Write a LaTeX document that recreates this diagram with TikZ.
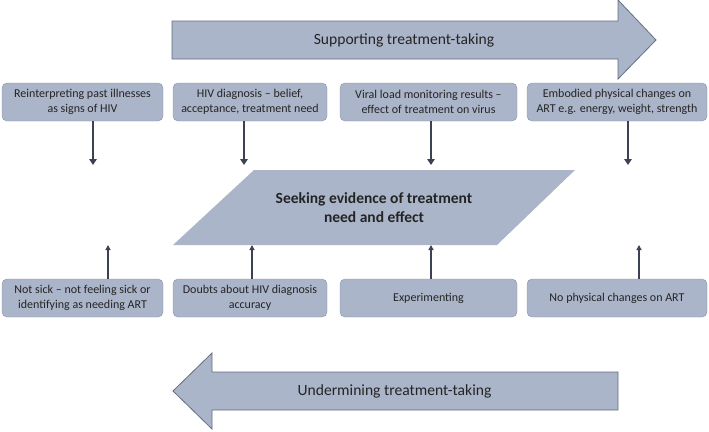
\documentclass[tikz,border=0pt]{standalone}
\usepackage{fontspec}
\setmainfont{Carlito}
\usetikzlibrary{positioning, arrows.meta}
\definecolor{boxfill}{RGB}{171,181,201}
\definecolor{boxline}{RGB}{138,148,166}
\definecolor{arrowline}{RGB}{100,110,128}
\definecolor{linkcol}{RGB}{60,66,82}
\definecolor{txt}{RGB}{36,36,36}
\tikzset{
	every node/.append style={
		text=txt,
	},
	box/.style={
		draw=boxline,
		fill=boxfill,
		rounded corners=5pt,
		align=center,
		minimum height=38pt,
		inner sep=0pt,
		outer sep=0pt,
		font={\fontsize{12}{15}\selectfont}
	},
	bigarrow/.style={
		draw=arrowline,
		fill=boxfill,
		line width=0.8pt
	},
	title/.style={
		font={\fontsize{15.6}{19}\selectfont}
	},
	seekshape/.style={
		fill=boxfill
	},
	seeklabel/.style={
		align=center,
		font={\fontsize{15.5}{19.5}\selectfont\bfseries}
	},
	downlink/.style={
		draw=linkcol,
		line width=2.4pt,
		-{Triangle[width=7.5pt,length=6pt]}
	},
	uplink/.style={
		draw=linkcol,
		line width=1.5pt,
		-{Triangle[width=5pt,length=5pt]}
	}
}

\begin{document}
\begin{tikzpicture}[x=1pt, y=1pt]
	\useasboundingbox (0,0) rectangle (709,-431);

	% supporting side
	\draw[bigarrow] (172,-21) -- (618,-21) -- (618,0) -- (656,-40) -- (618,-79) -- (618,-59) -- (172,-59) -- cycle;
	\node(support)[title] at (404,-40) {Supporting treatment-taking};

	\node(reint)[box, minimum width=161pt] at (82.5,-102) {Reinterpreting past illnesses\\as signs of HIV};
	\node(diag)[box, minimum width=154pt, right=10pt of reint] {HIV diagnosis -- belief,\\acceptance, treatment need};
	\node(viral)[box, minimum width=177pt, right=13pt of diag] {Viral load monitoring results --\\effect of treatment on virus};
	\node(embod)[box, minimum width=180pt, right=10pt of viral] {Embodied physical changes on\\ART e.g. energy, weight, strength};

	% centre
	\fill[seekshape] (254,-170) -- (575,-170) -- (497,-245) -- (173,-245) -- cycle;
	\coordinate(seekbase) at (335,-245);
	\node(seek)[seeklabel] at (374,-207.5) {Seeking evidence of treatment\\need and effect};

	% undermining side
	\node(nsick)[box, minimum width=161pt, below=158pt of reint] {Not sick -- not feeling sick or\\identifying as needing ART};
	\node(doubts)[box, minimum width=154pt, right=10pt of nsick] {Doubts about HIV diagnosis\\accuracy};
	\node(exper)[box, minimum width=177pt, right=13pt of doubts] {Experimenting};
	\node(nochange)[box, minimum width=180pt, right=10pt of exper] {No physical changes on ART};

	\draw[bigarrow] (618,-372) -- (212,-372) -- (212,-353) -- (173,-391) -- (212,-429) -- (212,-410) -- (618,-410) -- cycle;
	\node(undermine)[title] at (394.5,-391) {Undermining treatment-taking};

	\foreach \src/\x in {reint/93, diag/244, viral/431, embod/628}{
		\draw[downlink] (\x,0 |- \src.south) -- (\x,-165);
	};
	\foreach \src/\x in {nsick/108, doubts/252, exper/431, nochange/639}{
		\draw[uplink] (\x,0 |- \src.north) -- (\x,0 |- seekbase);
	};
\end{tikzpicture}
\end{document}
